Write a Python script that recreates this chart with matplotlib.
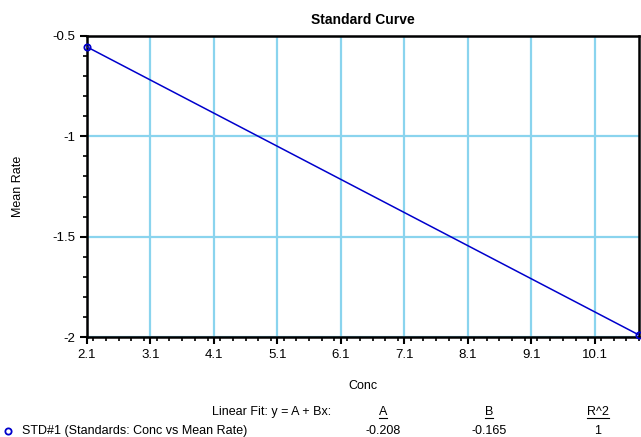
import numpy as np
import matplotlib.pyplot as plt
from matplotlib.ticker import MultipleLocator

plt.rcParams['font.family'] = ['Liberation Sans', 'DejaVu Sans']

# standards data
conc = [2.1, 10.8]
mean_rate = [-0.5545, -1.990]
fit_a = -0.208
fit_b = -0.165
r2 = 1
series_name = 'STD#1 (Standards: Conc vs Mean Rate)'

x_ticks = [2.1, 3.1, 4.1, 5.1, 6.1, 7.1, 8.1, 9.1, 10.1]
y_ticks = [-2, -1.5, -1, -0.5]

fig = plt.figure(figsize=(6.41, 4.37), dpi=100)
ax = fig.add_axes([87 / 641, 1 - 337 / 437, 552 / 641, 301 / 437])

xs = np.array(conc)
ax.plot(xs, fit_a + fit_b * xs, color='#0000cc', lw=1.1, zorder=3)
ax.plot(conc, mean_rate, 'o', mfc='none', mec='#0000cc', ms=4.5, mew=1.3,
        zorder=4, clip_on=False)

ax.set_xlim(2.1, 10.8)
ax.set_ylim(-2, -0.5)
ax.set_xticks(x_ticks)
ax.set_xticklabels([str(t) for t in x_ticks])
ax.set_yticks(y_ticks)
ax.set_yticklabels(['-2', '-1.5', '-1', '-0.5'])
ax.xaxis.set_minor_locator(MultipleLocator(0.2))
ax.yaxis.set_minor_locator(MultipleLocator(0.1))
ax.tick_params(which='major', direction='out', length=5, width=1.5,
               labelsize=9.5, colors='black')
ax.tick_params(which='minor', direction='out', length=3, width=1.2)
ax.grid(True, which='major', color='#8ad4ee', lw=1.6, zorder=1)
for s in ax.spines.values():
    s.set_linewidth(1.8)

ax.set_title('Standard Curve', fontsize=10, fontweight='bold', pad=9)
ax.set_xlabel('Conc', fontsize=9, labelpad=14)
ax.set_ylabel('Mean Rate', fontsize=9, labelpad=20)

# fit table underneath
def fx(px):
    return px / 641

def fy(py):
    return 1 - py / 437

fig.text(fx(331), fy(412), 'Linear Fit: y = A + Bx:', ha='right', va='center', fontsize=9)
for px, head, val in [(383, 'A', f'{fit_a:.3f}'), (489, 'B', f'{fit_b:.3f}'), (598, 'R^2', str(r2))]:
    fig.text(fx(px), fy(412), head, ha='center', va='center', fontsize=9)
    fig.text(fx(px), fy(431), val, ha='center', va='center', fontsize=9)
    w = 4 if head != 'R^2' else 11
    fig.add_artist(plt.Line2D([fx(px - w), fx(px + w)], [fy(418), fy(418)],
                              color='black', lw=0.8))
fig.add_artist(plt.Line2D([fx(8)], [fy(431)], marker='o', mfc='none', mec='#0000cc',
                          ms=4.5, mew=1.3))
fig.text(fx(22), fy(431), series_name, ha='left', va='center', fontsize=9)

fig.savefig('out.png', dpi=100)
